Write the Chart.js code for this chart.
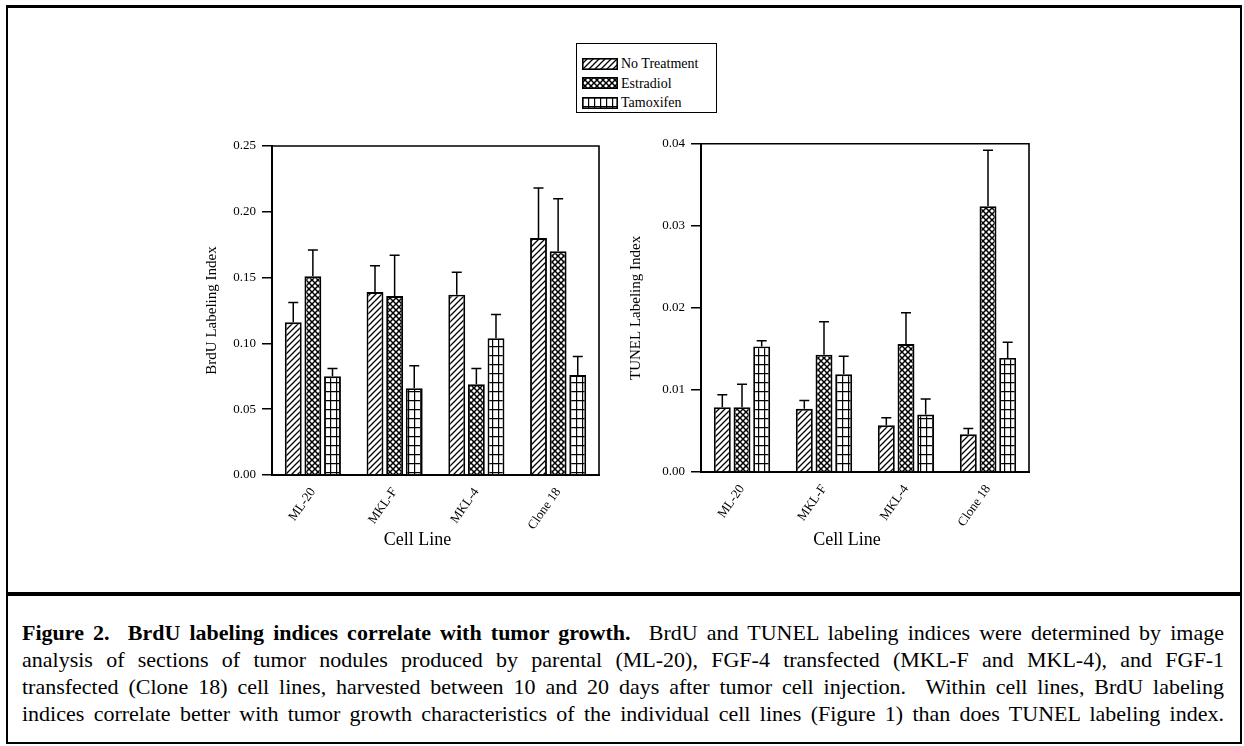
<!DOCTYPE html>
<html>
<head>
<meta charset="utf-8">
<script src="https://cdn.jsdelivr.net/npm/chart.js@4.4.1/dist/chart.umd.min.js"></script>
<style>
  html, body { margin: 0; padding: 0; background: #fff; }
  body { width: 1244px; height: 746px; position: relative; overflow: hidden; font-family: "Liberation Serif", "Times New Roman", serif; color: #000; }
  #frame { position: absolute; left: 6px; top: 5px; width: 1232px; height: 734px; border: 2px solid #000; border-top-width: 3px; }
  #sep { position: absolute; left: 6px; top: 592px; width: 1236px; height: 4px; background: #000; }
  canvas.chart { position: absolute; }
  #legend { position: absolute; left: 576px; top: 43px; width: 139px; height: 68px; border: 1.5px solid #000; font-size: 14px; }
  .item { position: absolute; left: 5px; height: 15px; line-height: 15px; white-space: nowrap; }
  .item canvas { vertical-align: middle; margin-right: 3px; position: relative; top: -1px; }
  #caption { position: absolute; left: 22px; top: 619px; width: 1202px; font-size: 20px; line-height: 27px; }
  #caption div { white-space: nowrap; }
  #caption div.fit { text-align: justify; text-align-last: justify; }
</style>
</head>
<body>
<div id="frame"></div>
<div id="sep"></div>
<div id="legend"></div>
<canvas id="brduChart" class="chart" width="470" height="440" style="left:150px;top:130px"></canvas>
<canvas id="tunelChart" class="chart" width="430" height="440" style="left:620px;top:130px"></canvas>
<div id="caption">
  <div><span><b>Figure 2.&nbsp; BrdU labeling indices correlate with tumor growth.</b>&nbsp; BrdU and TUNEL labeling indices were determined by image</span></div>
  <div><span>analysis of sections of tumor nodules produced by parental (ML-20), FGF-4 transfected (MKL-F and MKL-4), and FGF-1</span></div>
  <div><span>transfected (Clone 18) cell lines, harvested between 10 and 20 days after tumor cell injection.&nbsp; Within cell lines, BrdU labeling</span></div>
  <div><span>indices correlate better with tumor growth characteristics of the individual cell lines (Figure 1) than does TUNEL labeling index.</span></div>
</div>
<script>
const cellLines = ['ML-20', 'MKL-F', 'MKL-4', 'Clone 18'];
const seriesNames = ['No Treatment', 'Estradiol', 'Tamoxifen'];

// BrdU labeling index (means and upper error)
const brduNoTreatment = [0.116, 0.139, 0.137, 0.180];
const brduEstradiol   = [0.151, 0.136, 0.069, 0.170];
const brduTamoxifen   = [0.075, 0.066, 0.104, 0.076];
const brduNoTreatmentErr = [0.015, 0.020, 0.017, 0.038];
const brduEstradiolErr   = [0.020, 0.031, 0.012, 0.040];
const brduTamoxifenErr   = [0.006, 0.017, 0.018, 0.014];

// TUNEL labeling index
const tunelNoTreatment = [0.0079, 0.0077, 0.0057, 0.0046];
const tunelEstradiol   = [0.0079, 0.0143, 0.0156, 0.0324];
const tunelTamoxifen   = [0.0153, 0.0119, 0.0070, 0.0139];
const tunelNoTreatmentErr = [0.0015, 0.0010, 0.0009, 0.0007];
const tunelEstradiolErr   = [0.0028, 0.0040, 0.0038, 0.0068];
const tunelTamoxifenErr   = [0.0007, 0.0022, 0.0019, 0.0019];

const brduTicks = [0, 0.05, 0.10, 0.15, 0.20, 0.25];
const tunelTicks = [0, 0.01, 0.02, 0.03, 0.04];

const serif = '"Liberation Serif", "Times New Roman", serif';

// caption: pick a size so the longest line just fits, then justify every line
const caption = document.getElementById('caption');
let widest = 0;
caption.querySelectorAll('span').forEach(s => { widest = Math.max(widest, s.getBoundingClientRect().width); });
caption.style.fontSize = Math.min(22, 20 * 1196 / widest).toFixed(2) + 'px';
caption.querySelectorAll('div').forEach(d => d.classList.add('fit'));

// hatch fills like the printed figure
function makePattern(kind) {
    const c = document.createElement('canvas');
    const w = 6;
    const h = kind === 'grid' ? 9 : 6;
    c.width = w; c.height = h;
    const g = c.getContext('2d');
    g.fillStyle = '#fff';
    g.fillRect(0, 0, w, h);
    g.strokeStyle = '#000';
    if (kind === 'diag') {
        g.lineWidth = 1.3;
        g.beginPath();
        g.moveTo(-1, h + 1); g.lineTo(w + 1, -1);
        g.moveTo(-1, 1); g.lineTo(1, -1);
        g.moveTo(w - 1, h + 1); g.lineTo(w + 1, h - 1);
        g.stroke();
    } else if (kind === 'cross') {
        g.lineWidth = 1.5;
        g.beginPath();
        g.moveTo(-1, h + 1); g.lineTo(w + 1, -1);
        g.moveTo(-1, -1); g.lineTo(w + 1, h + 1);
        g.stroke();
    } else {
        g.lineWidth = 1.4;
        g.beginPath();
        g.moveTo(0.5, 0); g.lineTo(0.5, h);
        g.moveTo(0, 0.5); g.lineTo(w, 0.5);
        g.stroke();
    }
    return document.createElement('canvas').getContext('2d').createPattern(c, 'repeat');
}

const fills = [makePattern('diag'), makePattern('cross'), makePattern('grid')];

// legend swatches
const legend = document.getElementById('legend');
seriesNames.forEach((name, i) => {
    const item = document.createElement('div');
    item.className = 'item';
    item.style.top = (12 + i * 19.5) + 'px';
    const sw = document.createElement('canvas');
    sw.width = 36; sw.height = 12;
    const g = sw.getContext('2d');
    g.fillStyle = fills[i];
    g.fillRect(0, 0, 36, 12);
    g.strokeStyle = '#000';
    g.lineWidth = 1.6;
    g.strokeRect(0.8, 0.8, 34.4, 10.4);
    item.appendChild(sw);
    item.appendChild(document.createTextNode(name));
    legend.appendChild(item);
});

const frameBox = {
    id: 'frameBox',
    afterDraw(chart) {
        const a = chart.chartArea;
        const ctx = chart.ctx;
        ctx.save();
        ctx.strokeStyle = '#000';
        ctx.lineWidth = 1.6;
        ctx.beginPath();
        ctx.moveTo(a.left, a.top);
        ctx.lineTo(a.right, a.top);
        ctx.lineTo(a.right, a.bottom);
        ctx.stroke();
        // x axis title, sitting a little left of centre as in the print
        ctx.fillStyle = '#000';
        ctx.font = '18px ' + serif;
        ctx.textAlign = 'center';
        ctx.textBaseline = 'middle';
        ctx.fillText('Cell Line', (a.left + a.right) / 2 - 18, chart.height - 30);
        ctx.restore();
    }
};

const errorBars = {
    id: 'errorBars',
    afterDatasetsDraw(chart) {
        const ctx = chart.ctx;
        const y = chart.scales.y;
        ctx.save();
        ctx.strokeStyle = '#000';
        ctx.lineWidth = 1.5;
        chart.data.datasets.forEach((ds, i) => {
            const meta = chart.getDatasetMeta(i);
            meta.data.forEach((bar, j) => {
                const top = y.getPixelForValue(ds.data[j] + ds.errors[j]);
                ctx.beginPath();
                ctx.moveTo(bar.x, bar.y);
                ctx.lineTo(bar.x, top);
                ctx.moveTo(bar.x - 5, top);
                ctx.lineTo(bar.x + 5, top);
                ctx.stroke();
            });
        });
        ctx.restore();
    }
};

function makeChart(id, values, errors, ticks, title, pad, yWidth, titlePad, xHeight) {
    const datasets = seriesNames.map((name, i) => ({
        label: name,
        data: values[i],
        errors: errors[i],
        backgroundColor: fills[i],
        borderColor: '#000',
        borderWidth: 1.9,
        categoryPercentage: 0.72,
        barPercentage: 0.86
    }));
    return new Chart(document.getElementById(id), {
        type: 'bar',
        data: { labels: cellLines, datasets: datasets },
        options: {
            responsive: false,
            animation: false,
            layout: { padding: pad },
            plugins: { legend: { display: false }, tooltip: { enabled: false } },
            scales: {
                x: {
                    grid: { display: false },
                    border: { color: '#000', width: 2 },
                    ticks: { color: '#000', font: { family: serif, size: 13 }, minRotation: 55, maxRotation: 55, padding: 2 },
                    afterFit(scale) { scale.height = xHeight; }
                },
                y: {
                    min: ticks[0],
                    max: ticks[ticks.length - 1],
                    afterBuildTicks(scale) { scale.ticks = ticks.map(v => ({ value: v })); },
                    grid: { drawOnChartArea: false, drawTicks: true, tickLength: 10, color: '#000', lineWidth: 1.5 },
                    border: { color: '#000', width: 2 },
                    ticks: { color: '#000', font: { family: serif, size: 13 }, padding: 6, callback: v => v.toFixed(2) },
                    title: { display: true, text: title, color: '#000', font: { family: serif, size: 15 }, padding: { top: titlePad, bottom: 0 } },
                    afterFit(scale) { scale.width = yWidth; }
                }
            }
        },
        plugins: [errorBars, frameBox]
    });
}

makeChart('brduChart',
    [brduNoTreatment, brduEstradiol, brduTamoxifen],
    [brduNoTreatmentErr, brduEstradiolErr, brduTamoxifenErr],
    brduTicks, 'BrdU Labeling Index',
    { left: 16, right: 21, top: 16, bottom: 15 }, 106, 37, 80);

makeChart('tunelChart',
    [tunelNoTreatment, tunelEstradiol, tunelTamoxifen],
    [tunelNoTreatmentErr, tunelEstradiolErr, tunelTamoxifenErr],
    tunelTicks, 'TUNEL Labeling Index',
    { left: 0, right: 21, top: 13, bottom: 15 }, 81, 7, 83);
</script>
</body>
</html>
